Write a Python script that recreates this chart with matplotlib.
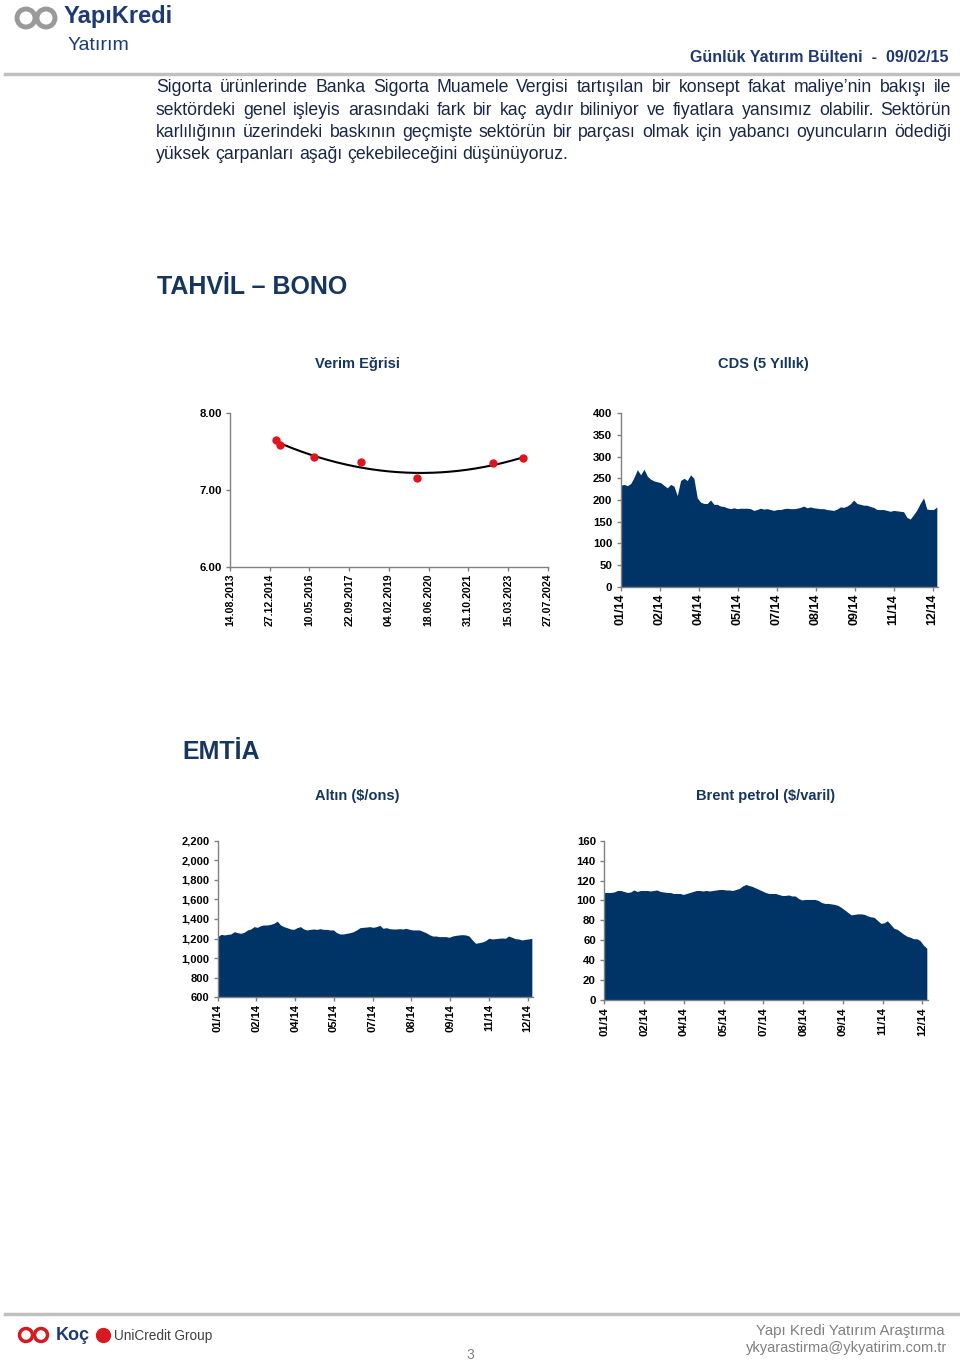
import numpy as np
import pandas as pd
import matplotlib
matplotlib.use('Agg')
import matplotlib.pyplot as plt
import matplotlib.dates as mdates
from matplotlib.patches import Circle

W, H = 960, 1363
NAVY = '#003366'
TXT = '#17365d'
BODY = '#1a2744'
GRAY = '#808080'
plt.rcParams['font.family'] = ['Liberation Sans', 'DejaVu Sans']

# ---- data ----
yc_dates = pd.to_datetime(['2015-03-17', '2015-05-11', '2016-07-12', '2018-02-13',
                           '2020-01-19', '2022-09-08', '2023-09-19'])
yc_vals = [7.64, 7.58, 7.42, 7.36, 7.15, 7.35, 7.41]
yc_ticks = pd.date_range('2013-08-14', periods=9, freq='500D')

cds = [234, 236, 233, 238, 252, 270, 258, 271, 255, 248, 244, 242, 240, 234, 228, 236,
       232, 210, 245, 250, 245, 258, 250, 205, 195, 192, 192, 200, 190, 190, 186, 185,
       182, 180, 182, 180, 181, 181, 181, 180, 176, 178, 181, 179, 180, 178, 176, 178,
       178, 180, 181, 180, 180, 181, 183, 186, 182, 184, 182, 181, 180, 180, 178, 177,
       176, 179, 184, 183, 186, 191, 200, 192, 190, 188, 188, 185, 183, 178, 178, 178,
       176, 174, 176, 175, 174, 173, 160, 156, 166, 177, 192, 205, 179, 178, 178, 184]

gold = [1220, 1243, 1237, 1243, 1247, 1270, 1260, 1254, 1264, 1288, 1298, 1322, 1315,
        1332, 1339, 1339, 1345, 1356, 1378, 1339, 1322, 1311, 1298, 1294, 1311, 1322,
        1298, 1288, 1294, 1298, 1294, 1301, 1294, 1294, 1288, 1288, 1260, 1247, 1247,
        1254, 1260, 1270, 1288, 1311, 1315, 1318, 1322, 1315, 1322, 1335, 1305, 1311,
        1301, 1298, 1298, 1301, 1298, 1305, 1294, 1288, 1288, 1288, 1274, 1260, 1240,
        1226, 1226, 1220, 1220, 1220, 1213, 1226, 1233, 1237, 1240, 1237, 1226, 1186,
        1152, 1158, 1165, 1179, 1203, 1196, 1199, 1203, 1206, 1203, 1226, 1213, 1199,
        1196, 1186, 1192, 1196, 1203]

brent = [108, 108, 108, 108.5, 110, 110, 109, 108, 108.5, 110.5, 109, 110, 110, 110,
         109.5, 110, 110.5, 109, 108.5, 108, 108, 107, 107, 107, 106, 107, 108, 109, 110,
         110, 109.5, 110, 109.5, 110, 110.5, 111, 111, 110.5, 110.5, 110, 111, 112, 114.5,
         116, 115, 114, 112.5, 111, 109.5, 108, 107, 107, 107, 106, 105, 105, 105.5,
         104.5, 104.5, 102, 100.5, 101, 101, 101, 101, 100, 98, 97, 97, 96.5, 96, 95, 93,
         90.5, 88, 85.5, 86, 86.5, 86.5, 86, 84.5, 83.5, 83, 80, 77, 77.5, 79.5, 76, 72,
         71, 68.5, 66, 64, 63, 61.5, 61.5, 59.5, 55, 52]

month_ticks = pd.date_range('2014-01-02', periods=9, freq='45D')
t0 = pd.Timestamp('2014-01-02')
t1 = t0 + pd.Timedelta(days=366)

paragraph = [
    "Sigorta ürünlerinde Banka Sigorta Muamele Vergisi tartışılan bir konsept fakat maliye’nin bakışı ile",
    "sektördeki genel işleyis arasındaki fark bir kaç aydır biliniyor ve fiyatlara yansımız olabilir. Sektörün",
    "karlılığının üzerindeki baskının geçmişte sektörün bir parçası olmak için yabancı oyuncuların ödediği",
    "yüksek çarpanları aşağı çekebileceğini düşünüyoruz.",
]


def px(x):
    return x / W


def py(y):
    return 1 - y / H


def box(l, t, r, b):
    return [px(l), py(b), (r - l) / W, (b - t) / H]


fig = plt.figure(figsize=(W / 100, H / 100), dpi=100)
fig.patch.set_facecolor('white')
renderer = fig.canvas.get_renderer()

# ---- header ----
lax = fig.add_axes(box(8, 2, 66, 36))
lax.set_xlim(8, 66)
lax.set_ylim(36, 2)
lax.set_aspect('equal')
lax.axis('off')
for cx in (26, 46):
    lax.add_patch(Circle((cx, 18), 9, fill=False, ec='#9a9a9a', lw=3.5))
fig.text(px(64), py(17), 'YapıKredi', weight='bold',
         fontsize=17, color='#1f3a73', va='center')
fig.text(px(68), py(45), 'Yatırım', fontsize=14, color='#1f3a73', va='center')
fig.text(px(948), py(57), 'Günlük Yatırım Bülteni  -  09/02/15', ha='right', va='center',
         fontsize=11.5, weight='bold', color='#1f3a73')
fig.add_artist(plt.Line2D([px(5), px(958)], [py(74), py(74)], color='#c0c0c0', lw=2.5))

# ---- paragraph (justified) ----
for i, line in enumerate(paragraph):
    y = 88 + i * 22.3
    words = line.split()
    objs = [fig.text(0, py(y), w, fontsize=12.7, color=BODY, va='center') for w in words]
    widths = [o.get_window_extent(renderer).width for o in objs]
    if i < len(paragraph) - 1:
        gap = (951 - 156 - sum(widths)) / (len(words) - 1)
    else:
        gap = 4.9
    x = 156
    for o, w in zip(objs, widths):
        o.set_x(px(x))
        x += w + gap

# ---- section titles ----
fig.text(px(157), py(287), 'TAHVİL – BONO', fontsize=18, weight='bold', color=TXT, va='center')
fig.text(px(357), py(364), 'Verim Eğrisi', fontsize=10.5, weight='bold', color=TXT,
         ha='center', va='center')
fig.text(px(763), py(364), 'CDS (5 Yıllık)', fontsize=10.5, weight='bold', color=TXT,
         ha='center', va='center')
fig.text(px(182), py(752), 'EMTİA', fontsize=18, weight='bold', color=TXT, va='center')
fig.text(px(357), py(796), 'Altın ($/ons)', fontsize=10.5, weight='bold', color=TXT,
         ha='center', va='center')
fig.text(px(766), py(796), 'Brent petrol ($/varil)', fontsize=10.5, weight='bold', color=TXT,
         ha='center', va='center')


def style(ax, fs=8, xfs=8):
    for s in ('top', 'right'):
        ax.spines[s].set_visible(False)
    for s in ('left', 'bottom'):
        ax.spines[s].set_color(GRAY)
        ax.spines[s].set_linewidth(1)
    ax.tick_params(axis='both', color=GRAY, length=3, width=1, direction='out')
    ax.tick_params(axis='y', labelsize=fs, pad=3)
    ax.tick_params(axis='x', labelsize=xfs, pad=2, labelrotation=90)
    for lab in ax.get_xticklabels() + ax.get_yticklabels():
        lab.set_fontweight('bold')


# ---- yield curve ----
ax1 = fig.add_axes(box(230, 412.7, 547.7, 566.7))
ax1.plot(yc_dates, yc_vals, 'o', color='#e0141e', ms=5, zorder=3)
xn = mdates.date2num(yc_dates)
coef = np.polyfit(xn, yc_vals, 2)
xf = np.linspace(xn[0], xn[-1], 200)
ax1.plot(mdates.num2date(xf), np.polyval(coef, xf), color='black', lw=1.5)
ax1.set_xlim(yc_ticks[0], yc_ticks[-1])
ax1.set_ylim(6, 8)
ax1.set_yticks([6, 7, 8])
ax1.yaxis.set_major_formatter(plt.FormatStrFormatter('%.2f'))
ax1.set_xticks(yc_ticks)
ax1.set_xticklabels([d.strftime('%d.%m.%Y') for d in yc_ticks])
style(ax1, fs=8.2, xfs=7.6)


def area(ax, vals, ymin, ymax, step, fmt):
    d = pd.date_range(t0, t1 - pd.Timedelta(days=1), periods=len(vals))
    ax.fill_between(d, vals, ymin, color=NAVY, lw=0)
    ax.set_xlim(t0, t1)
    ax.set_ylim(ymin, ymax)
    ax.set_yticks(np.arange(ymin, ymax + 1, step))
    ax.yaxis.set_major_formatter(plt.FuncFormatter(lambda v, p: fmt.format(v)))
    ax.set_xticks(month_ticks)
    ax.set_xticklabels([d.strftime('%m/%y') for d in month_ticks])


# ---- CDS ----
ax2 = fig.add_axes(box(620.7, 413.3, 937.7, 586.7))
area(ax2, cds, 0, 400, 50, '{:.0f}')
style(ax2, fs=8.2, xfs=9)

# ---- gold ----
ax3 = fig.add_axes(box(217.7, 840.7, 532.7, 997.3))
area(ax3, gold, 600, 2200, 200, '{:,.0f}')
style(ax3)

# ---- brent ----
ax4 = fig.add_axes(box(604.3, 840.7, 927.7, 1000))
area(ax4, brent, 0, 160, 20, '{:.0f}')
style(ax4, fs=8.2, xfs=8.2)

# ---- footer ----
fig.add_artist(plt.Line2D([px(5), px(958)], [py(1314), py(1314)], color='#c0c0c0', lw=2.5))
fax = fig.add_axes(box(14, 1324, 54, 1346))
fax.set_xlim(14, 54)
fax.set_ylim(1346, 1324)
fax.set_aspect('equal')
fax.axis('off')
for cx in (26, 41):
    fax.add_patch(Circle((cx, 1335), 6.5, fill=False, ec='#d71920', lw=2.5))
fig.text(px(56), py(1336), 'Koç', weight='bold',
         fontsize=13, color='#1f3a73', va='center')
fig.add_artist(plt.Line2D([px(103)], [py(1335)], marker='o', ms=10, color='#d71920', lw=0))
fig.text(px(114), py(1336), 'UniCredit Group', fontsize=9.8,
         color='#404040', va='center')
fig.text(px(470), py(1355), '3', fontsize=10, color=GRAY, ha='center', va='center')
fig.text(px(945), py(1331), 'Yapı Kredi Yatırım Araştırma', fontsize=10.8, color=GRAY,
         ha='right', va='center')
fig.text(px(947), py(1348), 'ykyarastirma@ykyatirim.com.tr', fontsize=10.5, color=GRAY,
         ha='right', va='center')

fig.savefig('out.png', dpi=100)
